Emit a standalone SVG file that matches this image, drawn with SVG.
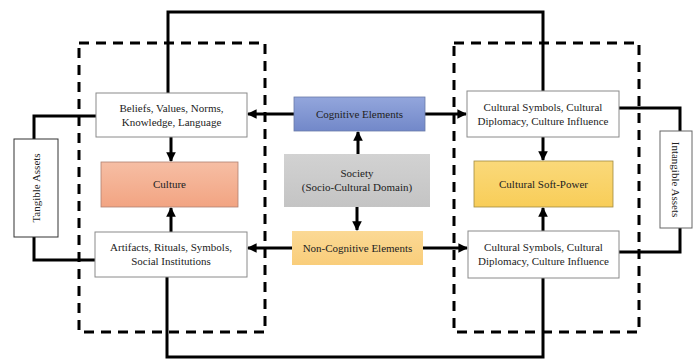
<svg xmlns="http://www.w3.org/2000/svg" width="693" height="360" viewBox="0 0 693 360">
<style>
.t{font-family:"Liberation Serif","Times New Roman",serif;font-size:11px;fill:#222;text-anchor:middle}
.box{fill:#fff;stroke:#8a8a8a;stroke-width:1}
.ln{fill:none;stroke:#000;stroke-width:3}
.dash{fill:none;stroke:#000;stroke-width:3;stroke-dasharray:10 7}
.ar{fill:none;stroke:#000;stroke-width:3;marker-end:url(#ah)}
</style>
<defs>
<marker id="ah" viewBox="0 0 10 10" refX="9" refY="5" markerWidth="3.2" markerHeight="3.2" orient="auto" markerUnits="strokeWidth">
<path d="M0,0 L10,5 L0,10 z" fill="#000"/>
</marker>
<linearGradient id="gBlue" x1="0" y1="0" x2="0" y2="1"><stop offset="0" stop-color="#93a6dc"/><stop offset="1" stop-color="#7288c9"/></linearGradient>
<linearGradient id="gSal" x1="0" y1="0" x2="0" y2="1"><stop offset="0" stop-color="#f6bea4"/><stop offset="1" stop-color="#f2a482"/></linearGradient>
<linearGradient id="gGold" x1="0" y1="0" x2="0" y2="1"><stop offset="0" stop-color="#fad97a"/><stop offset="1" stop-color="#f8cd58"/></linearGradient>
<linearGradient id="gOr" x1="0" y1="0" x2="0" y2="1"><stop offset="0" stop-color="#fbd995"/><stop offset="1" stop-color="#f9cd7a"/></linearGradient>
<linearGradient id="gGr" x1="0" y1="0" x2="0" y2="1"><stop offset="0" stop-color="#d2d2d2"/><stop offset="1" stop-color="#c4c4c4"/></linearGradient>
</defs>
<rect width="693" height="360" fill="#fff"/>

<g id="connectors">
<rect class="dash" x="79" y="43" width="186" height="289"/>
<rect class="dash" x="454" y="43" width="185" height="289"/>
<polyline class="ln" points="168,93 168,12 543,12 543,91"/>
<polyline class="ln" points="167,277 167,357 543,357 543,278"/>
<polyline class="ln" points="96,116 34,116 34,139"/>
<polyline class="ln" points="34,237 34,260 95,260"/>
<polyline class="ln" points="619,108 680,108 680,131"/>
<polyline class="ln" points="680,228 680,252 619,252"/>
<line class="ar" x1="294" y1="114" x2="248" y2="114"/>
<line class="ar" x1="425" y1="114" x2="466" y2="114"/>
<line class="ar" x1="292" y1="248" x2="248" y2="248"/>
<line class="ar" x1="423" y1="248" x2="467" y2="248"/>
<line class="ar" x1="358" y1="154" x2="358" y2="132"/>
<line class="ar" x1="357" y1="207" x2="357" y2="230"/>
<line class="ar" x1="171" y1="137" x2="171" y2="161"/>
<line class="ar" x1="171" y1="232" x2="171" y2="208"/>
<line class="ar" x1="543" y1="137" x2="543" y2="160"/>
<line class="ar" x1="543" y1="231" x2="543" y2="208"/>
</g>

<g id="beliefs">
<rect class="box" x="96" y="93" width="151" height="44"/>
<text class="t" x="171.5" y="112">Beliefs, Values, Norms,</text>
<text class="t" x="171.5" y="126">Knowledge, Language</text>
</g>
<g id="culture">
<rect x="101" y="162" width="137" height="45" fill="url(#gSal)" stroke="#b08070" stroke-width="0.8"/>
<text class="t" x="169.5" y="188">Culture</text>
</g>
<g id="artifacts">
<rect class="box" x="95" y="232" width="152" height="45"/>
<text class="t" x="171" y="251">Artifacts, Rituals, Symbols,</text>
<text class="t" x="171" y="265">Social Institutions</text>
</g>
<g id="cognitive">
<rect x="294" y="97" width="131" height="34" fill="url(#gBlue)" stroke="#6a7aa8" stroke-width="0.8"/>
<text class="t" x="359.5" y="118">Cognitive Elements</text>
</g>
<g id="society">
<rect x="284" y="154" width="146" height="53" fill="url(#gGr)"/>
<text class="t" x="357" y="177">Society</text>
<text class="t" x="357" y="191">(Socio-Cultural Domain)</text>
</g>
<g id="noncognitive">
<rect x="292" y="231" width="131" height="34" fill="url(#gOr)"/>
<text class="t" x="357.5" y="252">Non-Cognitive Elements</text>
</g>
<g id="symbolsTop">
<rect class="box" x="467" y="91" width="152" height="46"/>
<text class="t" x="543" y="111">Cultural Symbols, Cultural</text>
<text class="t" x="543" y="125">Diplomacy, Culture Influence</text>
</g>
<g id="softpower">
<rect x="474" y="161" width="139" height="46" fill="url(#gGold)" stroke="#a08a40" stroke-width="0.8"/>
<text class="t" x="543.5" y="188">Cultural Soft-Power</text>
</g>
<g id="symbolsBottom">
<rect class="box" x="468" y="231" width="151" height="47"/>
<text class="t" x="543.5" y="251">Cultural Symbols, Cultural</text>
<text class="t" x="543.5" y="265">Diplomacy, Culture Influence</text>
</g>
<g id="tangible">
<rect x="14" y="139" width="44" height="98" fill="#fff" stroke="#333" stroke-width="1"/>
<text class="t" transform="translate(40,188) rotate(-90)" x="0" y="0">Tangible Assets</text>
</g>
<g id="intangible">
<rect x="660" y="131" width="32" height="97" fill="#fff" stroke="#666" stroke-width="1"/>
<text class="t" transform="translate(672,179.5) rotate(90)" x="0" y="0">Intangible Assets</text>
</g>
</svg>
